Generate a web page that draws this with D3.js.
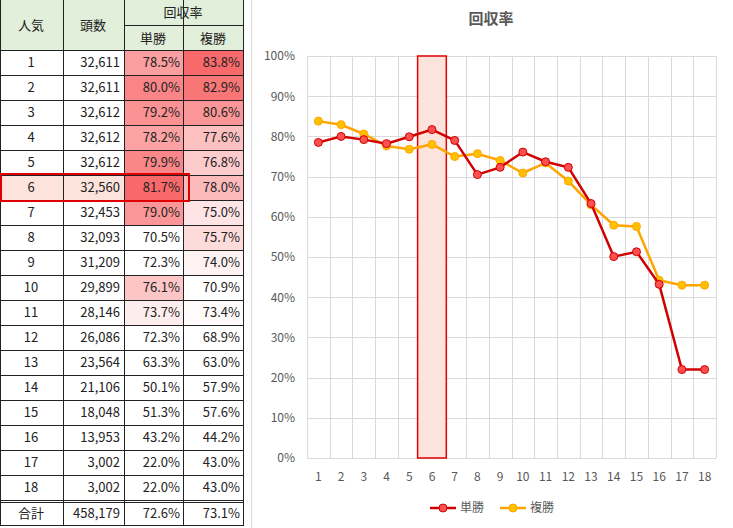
<!DOCTYPE html>
<html lang="ja">
<head>
<meta charset="utf-8" />
<script src="https://cdn.jsdelivr.net/npm/d3@7"></script>
<style>
  body { margin: 0; background: #fff; }
</style>
</head>
<body>
<svg id="chart" width="733" height="528"></svg>
<script>
// data
const ranks = d3.range(1, 19).map(String);
const heads = [32611, 32611, 32612, 32612, 32612, 32560, 32453, 32093, 31209, 29899, 28146, 26086, 23564, 21106, 18048, 13953, 3002, 3002];
const tan = [78.5, 80.0, 79.2, 78.2, 79.9, 81.7, 79.0, 70.5, 72.3, 76.1, 73.7, 72.3, 63.3, 50.1, 51.3, 43.2, 22.0, 22.0];
const fuku = [83.8, 82.9, 80.6, 77.6, 76.8, 78.0, 75.0, 75.7, 74.0, 70.9, 73.4, 68.9, 63.0, 57.9, 57.6, 44.2, 43.0, 43.0];
const totals = ["合計", "458,179", "72.6%", "73.1%"];
const yTicks = [0, 10, 20, 30, 40, 50, 60, 70, 80, 90, 100];
const highlight = "6";

const svg = d3.select("#chart").attr("font-family", "'Noto Sans CJK JP', sans-serif");
const fmt = d3.format(",");

// ---------- table ----------
const colX = [0, 63, 124, 183, 243];
const rowH = 25, tableTop = 50;
const tbl = svg.append("g");

// header
tbl.append("rect").attr("x", 0).attr("y", 0).attr("width", 243).attr("height", tableTop).attr("fill", "#e2efda");
const hdr = [
  { t: "人気", x: 31, y: 25 }, { t: "頭数", x: 93, y: 25 },
  { t: "回収率", x: 183, y: 12 }, { t: "単勝", x: 153, y: 38 }, { t: "複勝", x: 213, y: 38 }
];
tbl.selectAll(".h").data(hdr).enter().append("text")
  .attr("x", d => d.x).attr("y", d => d.y).attr("dy", "0.35em")
  .attr("text-anchor", "middle").attr("font-size", 13).attr("fill", "#222").text(d => d.t);

const cTan = d3.scaleLinear().domain([72.6, 81.7]).range(["#ffffff", "#f8696b"]).clamp(true);
const cFuku = d3.scaleLinear().domain([73.1, 83.8]).range(["#ffffff", "#f8696b"]).clamp(true);

ranks.forEach((r, i) => {
  const y = tableTop + i * rowH;
  const hl = r === highlight;
  tbl.append("rect").attr("x", 0).attr("y", y).attr("width", 124).attr("height", rowH).attr("fill", hl ? "#fce4dc" : "#fff");
  tbl.append("rect").attr("x", 124).attr("y", y).attr("width", 59).attr("height", rowH).attr("fill", tan[i] > 72.6 ? cTan(tan[i]) : "#fff");
  tbl.append("rect").attr("x", 183).attr("y", y).attr("width", 60).attr("height", rowH).attr("fill", fuku[i] > 73.1 ? cFuku(fuku[i]) : "#fff");
  const vals = [[r, 31, "middle"], [fmt(heads[i]), 120, "end"], [tan[i].toFixed(1) + "%", 180, "end"], [fuku[i].toFixed(1) + "%", 240, "end"]];
  vals.forEach(v => tbl.append("text").attr("x", v[1]).attr("y", y + rowH / 2).attr("dy", "0.35em")
    .attr("text-anchor", v[2]).attr("font-size", 13).attr("fill", "#222").text(v[0]));
});
const ty = tableTop + 18 * rowH + 1;
tbl.append("rect").attr("x", 0).attr("y", ty).attr("width", 243).attr("height", rowH).attr("fill", "#fff");
[[totals[0], 31, "middle"], [totals[1], 120, "end"], [totals[2], 180, "end"], [totals[3], 240, "end"]].forEach(v =>
  tbl.append("text").attr("x", v[1]).attr("y", ty + rowH / 2).attr("dy", "0.35em")
    .attr("text-anchor", v[2]).attr("font-size", 13).attr("fill", "#222").text(v[0]));

// grid lines of table
const bottom = ty + rowH;
colX.forEach(x => tbl.append("line").attr("x1", x + 0.5).attr("x2", x + 0.5).attr("y1", 0).attr("y2", bottom).attr("stroke", "#222"));
tbl.append("line").attr("x1", 124).attr("x2", 243).attr("y1", 25.5).attr("y2", 25.5).attr("stroke", "#222");
d3.range(0, 19).forEach(i => tbl.append("line").attr("x1", 0).attr("x2", 243)
  .attr("y1", tableTop + i * rowH + 0.5).attr("y2", tableTop + i * rowH + 0.5).attr("stroke", "#222"));
tbl.append("line").attr("x1", 0).attr("x2", 243).attr("y1", ty + 1.5).attr("y2", ty + 1.5).attr("stroke", "#222");
tbl.append("line").attr("x1", 0).attr("x2", 243).attr("y1", bottom - 0.5).attr("y2", bottom - 0.5).attr("stroke", "#222");
tbl.append("line").attr("x1", 0).attr("x2", 0).attr("y1", 0).attr("y2", bottom).attr("stroke", "#222").attr("stroke-width", 2);
// highlight box
const hi = ranks.indexOf(highlight);
tbl.append("rect").attr("x", 1).attr("y", tableTop + hi * rowH - 1).attr("width", 188).attr("height", rowH + 2)
  .attr("fill", "none").attr("stroke", "#e00000").attr("stroke-width", 2);

// ---------- chart ----------
svg.append("line").attr("x1", 251.5).attr("x2", 251.5).attr("y1", 0).attr("y2", 528).attr("stroke", "#d9d9d9");
svg.append("text").attr("x", 491).attr("y", 24).attr("text-anchor", "middle").attr("font-size", 15)
  .attr("font-weight", "bold").attr("fill", "#595959").text("回収率");

const x = d3.scaleBand().domain(ranks).range([307, 716]);
const y = d3.scaleLinear().domain([0, 100]).range([458, 56]);
const g = svg.append("g");

// grid
g.selectAll(".gy").data(yTicks).enter().append("line")
  .attr("x1", 307).attr("x2", 716).attr("y1", d => Math.round(y(d)) + 0.5).attr("y2", d => Math.round(y(d)) + 0.5)
  .attr("stroke", "#d9d9d9");
g.selectAll(".gx").data(ranks.concat(["end"])).enter().append("line")
  .attr("x1", (d, i) => Math.round(307 + i * x.step()) + 0.5).attr("x2", (d, i) => Math.round(307 + i * x.step()) + 0.5)
  .attr("y1", 56).attr("y2", 458).attr("stroke", "#d9d9d9");

// highlight band
g.append("rect").attr("x", x(highlight) - 3).attr("y", y(100)).attr("width", x.bandwidth() + 6).attr("height", y(0) - y(100))
  .attr("fill", "#fce4dc").attr("stroke", "#e00000").attr("stroke-width", 1.5);

// axes
const yAxis = g.append("g").attr("transform", "translate(307,0)")
  .call(d3.axisLeft(y).tickValues(yTicks).tickSize(0).tickPadding(12).tickFormat(d => d + "%"));
yAxis.select(".domain").remove();
yAxis.selectAll("text").attr("font-size", 12).attr("fill", "#595959").attr("font-family", "'Noto Sans CJK JP', sans-serif");
const xAxis = g.append("g").attr("transform", "translate(0,458)")
  .call(d3.axisBottom(x).tickSize(0).tickPadding(14));
xAxis.select(".domain").remove();
xAxis.selectAll("text").attr("font-size", 12).attr("fill", "#595959").attr("font-family", "'Noto Sans CJK JP', sans-serif");

const cx = (d, i) => x(ranks[i]) + x.bandwidth() / 2;
const series = [
  { name: "複勝", vals: fuku, line: "#ffa500", dot: "#ffc000", edge: "#ffa500" },
  { name: "単勝", vals: tan, line: "#d00000", dot: "#ff5050", edge: "#d00000" }
];
series.forEach(s => {
  g.append("path").datum(s.vals)
    .attr("d", d3.line().x(cx).y(d => y(d)))
    .attr("fill", "none").attr("stroke", s.line).attr("stroke-width", 2.5);
  g.selectAll(null).data(s.vals).enter().append("circle")
    .attr("cx", cx).attr("cy", d => y(d)).attr("r", 4)
    .attr("fill", s.dot).attr("stroke", s.edge).attr("stroke-width", 1);
});

// legend
const leg = [{ s: series[1], x: 430 }, { s: series[0], x: 500 }];
leg.forEach(l => {
  svg.append("line").attr("x1", l.x).attr("x2", l.x + 26).attr("y1", 508).attr("y2", 508).attr("stroke", l.s.line).attr("stroke-width", 2.5);
  svg.append("circle").attr("cx", l.x + 13).attr("cy", 508).attr("r", 4).attr("fill", l.s.dot).attr("stroke", l.s.edge);
  svg.append("text").attr("x", l.x + 30).attr("y", 508).attr("dy", "0.35em").attr("font-size", 12).attr("fill", "#595959").text(l.s.name);
});
</script>
</body>
</html>
